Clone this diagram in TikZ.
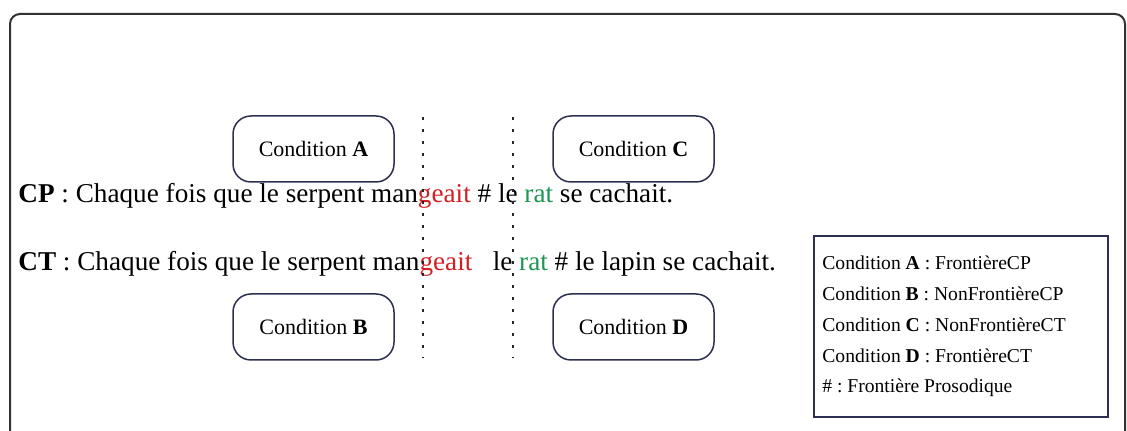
\documentclass[tikz,border=0pt]{standalone}
\usepackage{fontspec}
\setmainfont{Liberation Serif}
\usetikzlibrary{positioning}
\definecolor{framegrey}{RGB}{50,50,50}
\definecolor{boxnavy}{RGB}{44,48,78}
\definecolor{verbred}{RGB}{208,32,36}
\definecolor{nounGreen}{RGB}{28,150,82}
\newcommand{\verbpart}[1]{\textcolor{verbred}{#1}}
\newcommand{\nounpart}[1]{\textcolor{nounGreen}{#1}}
\frenchspacing

\begin{document}
\begin{tikzpicture}[
    x=0.5pt, y=-0.5pt,
    every node/.style={text=black},
    cond/.style={draw=boxnavy, line width=0.75pt, rounded corners=9pt, minimum width=80.5pt, minimum height=33pt, inner sep=0pt, font=\fontsize{11}{13}\selectfont},
    sent/.style={anchor=base west, inner sep=0pt, font=\fontsize{13.6}{16}\selectfont},
    legbox/.style={draw=boxnavy, line width=0.75pt, minimum width=147pt, minimum height=90.5pt, inner sep=0pt},
    legline/.style={anchor=base west, inner sep=0pt, font=\fontsize{9.8}{12}\selectfont},
    boundary/.style={line width=1.1pt, dash pattern=on 1.6pt off 4.4pt, black!85},
]
\useasboundingbox (0,0) rectangle (1127,431);

% ---------------------------------------------------------------- frame ---
\draw[framegrey, line width=1pt, rounded corners=5pt] (10,14) rectangle (1125,480);

% ----------------------------------------------------------- conditions ---
\node[cond] (condA) at (313.5,149) {Condition \textbf{A}};
\node[cond] (condC) at (633.5,149) {Condition \textbf{C}};
\node[cond] (condB) at (313.5,327) {Condition \textbf{B}};
\node[cond] (condD) at (633.5,327) {Condition \textbf{D}};

% ------------------------------------------------------------ sentences ---
\node[sent] (cp) at (18,203) {\textbf{CP} : Chaque fois que le serpent man\verbpart{geait} \# le \nounpart{rat} se cachait.};
\node[sent] (ct) at (18,271) {\textbf{CT} : Chaque fois que le serpent man\verbpart{geait}\ \ \ le \nounpart{rat} \# le lapin se cachait.};

% ----------------------------------------------------------- boundaries ---
\coordinate (leftTop) at (423,117);
\coordinate (leftBot) at (423,358);
\coordinate (rightTop) at (513,117);
\coordinate (rightBot) at (513,358);
\draw[boundary] (leftTop) -- (leftBot);
\draw[boundary] (rightTop) -- (rightBot);

% --------------------------------------------------------------- legend ---
\node[legbox] (legend) at (961,326.5) {};
\node[legline] (legA) at (822,270) {Condition \textbf{A} : FrontièreCP};
\node[legline] (legB) at (822,300.75) {Condition \textbf{B} : NonFrontièreCP};
\node[legline] (legC) at (822,331.5) {Condition \textbf{C} : NonFrontièreCT};
\node[legline] (legD) at (822,362.25) {Condition \textbf{D} : FrontièreCT};
\node[legline] (legHash) at (822,393) {\# : Frontière Prosodique};

\end{tikzpicture}
\end{document}
